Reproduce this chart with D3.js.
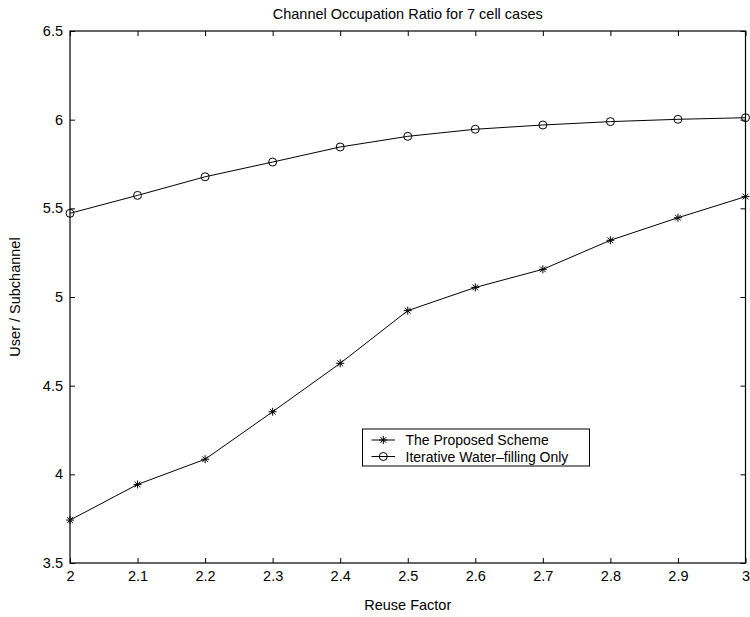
<!DOCTYPE html>
<html><head><meta charset="utf-8">
<script src="https://cdn.jsdelivr.net/npm/d3@7"></script>
<style>body{margin:0;background:#fff}text{font-family:"Liberation Sans",Arial,sans-serif;fill:#000}</style>
</head><body><svg id="c" width="750" height="617"></svg>
<script>
const reuseFactor = [2.0,2.1,2.2,2.3,2.4,2.5,2.6,2.7,2.8,2.9,3.0];
const proposedScheme = [3.742,3.943,4.085,4.353,4.626,4.923,5.054,5.156,5.320,5.447,5.566];
const waterFillingOnly = [5.472,5.573,5.678,5.761,5.846,5.906,5.946,5.970,5.989,6.002,6.011];
const xTicks = [2,2.1,2.2,2.3,2.4,2.5,2.6,2.7,2.8,2.9,3];
const yTicks = [3.5,4,4.5,5,5.5,6,6.5];
const seriesNames = ["The Proposed Scheme","Iterative Water\u2013filling Only"];

const FS = 14.5;
const svg = d3.select("#c");
const L=70,R=745.5,T=31,B=563;
const x = d3.scaleLinear().domain([2,3]).range([L,R]);
const y = d3.scaleLinear().domain([3.5,6.5]).range([B,T]);

const fmt = d => String(+d.toFixed(1));
const tl = 5;
const bx = svg.append("g").attr("transform",`translate(0,${B})`)
  .call(d3.axisBottom(x).tickValues(xTicks).tickFormat(fmt).tickSizeInner(-tl).tickSizeOuter(0).tickPadding(8));
const tx = svg.append("g").attr("transform",`translate(0,${T})`)
  .call(d3.axisTop(x).tickValues(xTicks).tickFormat("").tickSizeInner(-tl).tickSizeOuter(0));
const ly = svg.append("g").attr("transform",`translate(${L},0)`)
  .call(d3.axisLeft(y).tickValues(yTicks).tickFormat(fmt).tickSizeInner(-tl).tickSizeOuter(0).tickPadding(7));
const ry = svg.append("g").attr("transform",`translate(${R},0)`)
  .call(d3.axisRight(y).tickValues(yTicks).tickFormat("").tickSizeInner(-tl).tickSizeOuter(0));
[bx,tx,ly,ry].forEach(g=>{
  g.selectAll("path.domain").remove();
  g.selectAll("line").attr("stroke","#000").attr("stroke-width",1);
  g.selectAll("text").attr("font-size",FS).attr("font-family","Liberation Sans, Arial, sans-serif");
});
svg.append("rect").attr("x",L).attr("y",T).attr("width",R-L).attr("height",B-T)
  .attr("fill","none").attr("stroke","#000").attr("stroke-width",1.2);

const line = d3.line().x((d,i)=>x(reuseFactor[i])).y(d=>y(d));
function star(g,cx,cy,r){
  const p=d3.path();
  p.moveTo(cx-r,cy);p.lineTo(cx+r,cy);
  p.moveTo(cx,cy-r);p.lineTo(cx,cy+r);
  const q=r*0.72;
  p.moveTo(cx-q,cy-q);p.lineTo(cx+q,cy+q);
  p.moveTo(cx-q,cy+q);p.lineTo(cx+q,cy-q);
  g.append("path").attr("d",p.toString()).attr("stroke","#000").attr("stroke-width",1).attr("fill","none");
}
function circ(g,cx,cy,r){
  g.append("circle").attr("cx",cx).attr("cy",cy).attr("r",r).attr("fill","none").attr("stroke","#000").attr("stroke-width",1);
}
const plot = svg.append("g");
plot.append("path").attr("d",line(proposedScheme)).attr("fill","none").attr("stroke","#000").attr("stroke-width",1);
plot.append("path").attr("d",line(waterFillingOnly)).attr("fill","none").attr("stroke","#000").attr("stroke-width",1);
proposedScheme.forEach((v,i)=>star(plot,x(reuseFactor[i]),y(v),4));
waterFillingOnly.forEach((v,i)=>circ(plot,x(reuseFactor[i]),y(v),4));

svg.append("text").attr("x",(L+R)/2).attr("y",18.5).attr("text-anchor","middle").attr("font-size",FS).text("Channel Occupation Ratio for 7 cell cases");
svg.append("text").attr("x",(L+R)/2).attr("y",610).attr("text-anchor","middle").attr("font-size",FS).text("Reuse Factor");
svg.append("text").attr("transform",`translate(20,${(T+B)/2}) rotate(-90)`).attr("text-anchor","middle").attr("font-size",FS).text("User / Subchannel");

const lg = svg.append("g");
lg.append("rect").attr("x",362.5).attr("y",429).attr("width",227).attr("height",37).attr("fill","#fff").attr("stroke","#000").attr("stroke-width",1);
const rows=[440,456.5];
rows.forEach((ry2,i)=>{
  lg.append("line").attr("x1",371.5).attr("x2",395).attr("y1",ry2).attr("y2",ry2).attr("stroke","#000");
  if(i===0) star(lg,383.3,ry2,4); else circ(lg,383.3,ry2,4);
  lg.append("text").attr("x",405.5).attr("y",ry2+5).attr("font-size",14).text(seriesNames[i]);
});
</script></body></html>
